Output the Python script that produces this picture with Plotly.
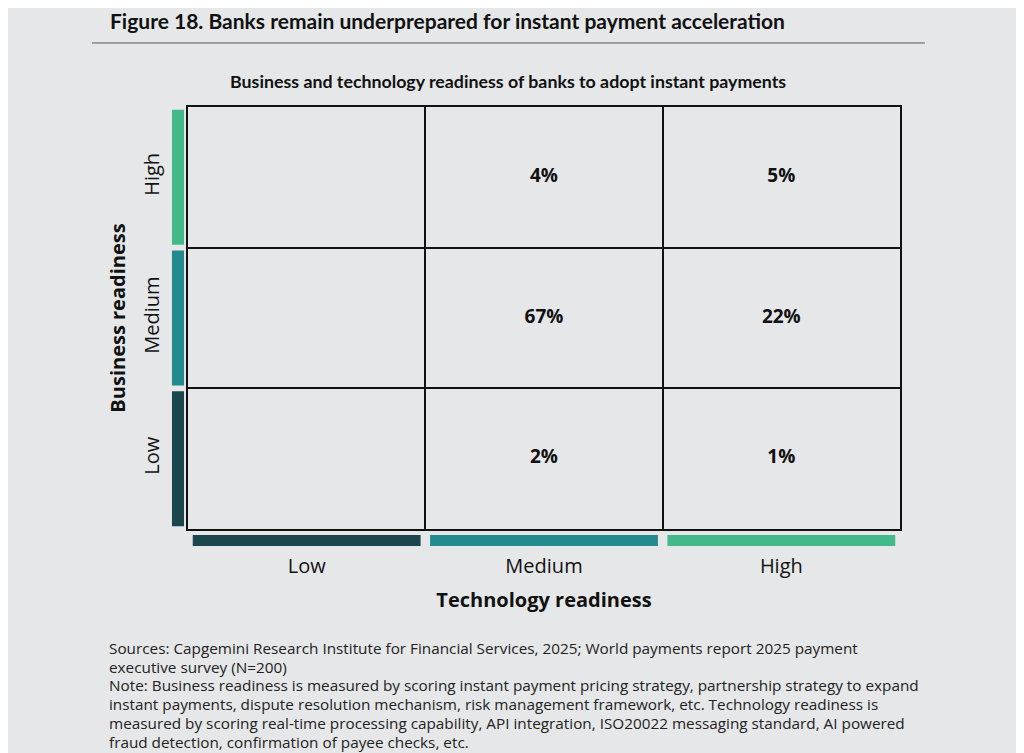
import plotly.graph_objects as go

# Data: rows = business readiness, columns = technology readiness
tech_levels = ['Low', 'Medium', 'High']
business_levels = ['Low', 'Medium', 'High']
# share of banks (%) per cell, None = empty cell
share_low_business = [None, 2, 1]
share_medium_business = [None, 67, 22]
share_high_business = [None, 4, 5]
level_colors = ['#1c464d', '#238a8d', '#43b98a']

footnote_lines = [
    'Sources: Capgemini Research Institute for Financial Services, 2025; World payments report 2025 payment',
    'executive survey (N=200)',
    'Note: Business readiness is measured by scoring instant payment pricing strategy, partnership strategy to expand',
    'instant payments, dispute resolution mechanism, risk management framework, etc. Technology readiness is',
    'measured by scoring real-time processing capability, API integration, ISO20022 messaging standard, AI powered',
    'fraud detection, confirmation of payee checks, etc.',
]

bg = '#e6e7e8'
rows = [share_low_business, share_medium_business, share_high_business]

xs, ys, texts = [], [], []
for yi, row in enumerate(rows):
    for xi, v in enumerate(row):
        if v is not None:
            xs.append(xi)
            ys.append(yi)
            texts.append(f'{v}%')

fig = go.Figure(go.Scatter(
    x=xs, y=ys, text=texts, mode='text',
    textfont=dict(family='Open Sans', size=19, color='#111111', weight='bold'),
    hoverinfo='skip', showlegend=False
))

shapes = []
inset = 0.02
for i, c in enumerate(level_colors):
    # bars under the technology labels
    shapes.append(dict(type='rect', xref='x', yref='paper',
                       x0=i - 0.5 + inset, x1=i + 0.5 - inset, y0=-0.0142, y1=-0.0403,
                       fillcolor=c, line_width=0))
    # bars beside the business labels
    shapes.append(dict(type='rect', xref='paper', yref='y',
                       x0=-0.0225, x1=-0.0056, y0=i - 0.5 + inset, y1=i + 0.5 - inset,
                       fillcolor=c, line_width=0))
# rule under the figure title
shapes.append(dict(type='line', xref='paper', yref='paper', x0=-0.135, x1=1.035,
                   y0=1.1517, y1=1.1517, line=dict(color='#555555', width=1)))

annotations = [
    dict(text='<b>Figure 18. Banks remain underprepared for instant payment acceleration</b>',
         xref='paper', yref='paper', x=-0.1124, y=1.206, xanchor='left', yanchor='middle',
         showarrow=False, font=dict(family='Lato', size=21, color='#111111')),
    dict(text='<b>Business and technology readiness of banks to adopt instant payments</b>',
         xref='paper', yref='paper', x=0.449, y=1.061, xanchor='center', yanchor='middle',
         showarrow=False, font=dict(family='Lato', size=17.8, color='#111111')),
]
# footnote, one annotation per line to keep the tight line spacing
for k, line in enumerate(footnote_lines):
    annotations.append(dict(
        text=line, xref='paper', yref='paper', x=-0.1138, y=(-119 - 18.7 * k) / 422,
        xanchor='left', yanchor='middle', align='left', showarrow=False,
        font=dict(family='Open Sans', size=15.3, color='#222222')))

fig.update_layout(
    width=1024, height=753,
    paper_bgcolor=bg, plot_bgcolor=bg,
    margin=dict(l=180, r=132, t=99, b=232),
    font=dict(family='Open Sans', color='#111111'),
    shapes=shapes,
    annotations=annotations,
    xaxis=dict(
        range=[-0.5, 2.5], tickvals=[0, 1, 2], ticktext=tech_levels,
        showgrid=False, zeroline=False, ticks='',
        showline=True, mirror=True, linecolor='#111111', linewidth=2,
        minor=dict(tickvals=[0.5, 1.5], showgrid=True, gridcolor='#111111', gridwidth=2, ticks=''),
        tickfont=dict(size=20, family='Open Sans'), ticklabelstandoff=18,
        title=dict(text='<b>Technology readiness</b>', font=dict(size=20, family='Open Sans'), standoff=15),
        fixedrange=True,
    ),
    yaxis=dict(
        range=[-0.5, 2.5], tickvals=[0, 1, 2], ticktext=business_levels,
        showgrid=False, zeroline=False, ticks='', tickangle=-90,
        showline=True, mirror=True, linecolor='#111111', linewidth=2,
        minor=dict(tickvals=[0.5, 1.5], showgrid=True, gridcolor='#111111', gridwidth=2, ticks=''),
        tickfont=dict(size=20, family='Open Sans'), ticklabelstandoff=19,
        title=dict(text='<b>Business readiness</b>', font=dict(size=20, family='Open Sans'), standoff=7),
        fixedrange=True,
    ),
)

fig.write_html('out.html')
